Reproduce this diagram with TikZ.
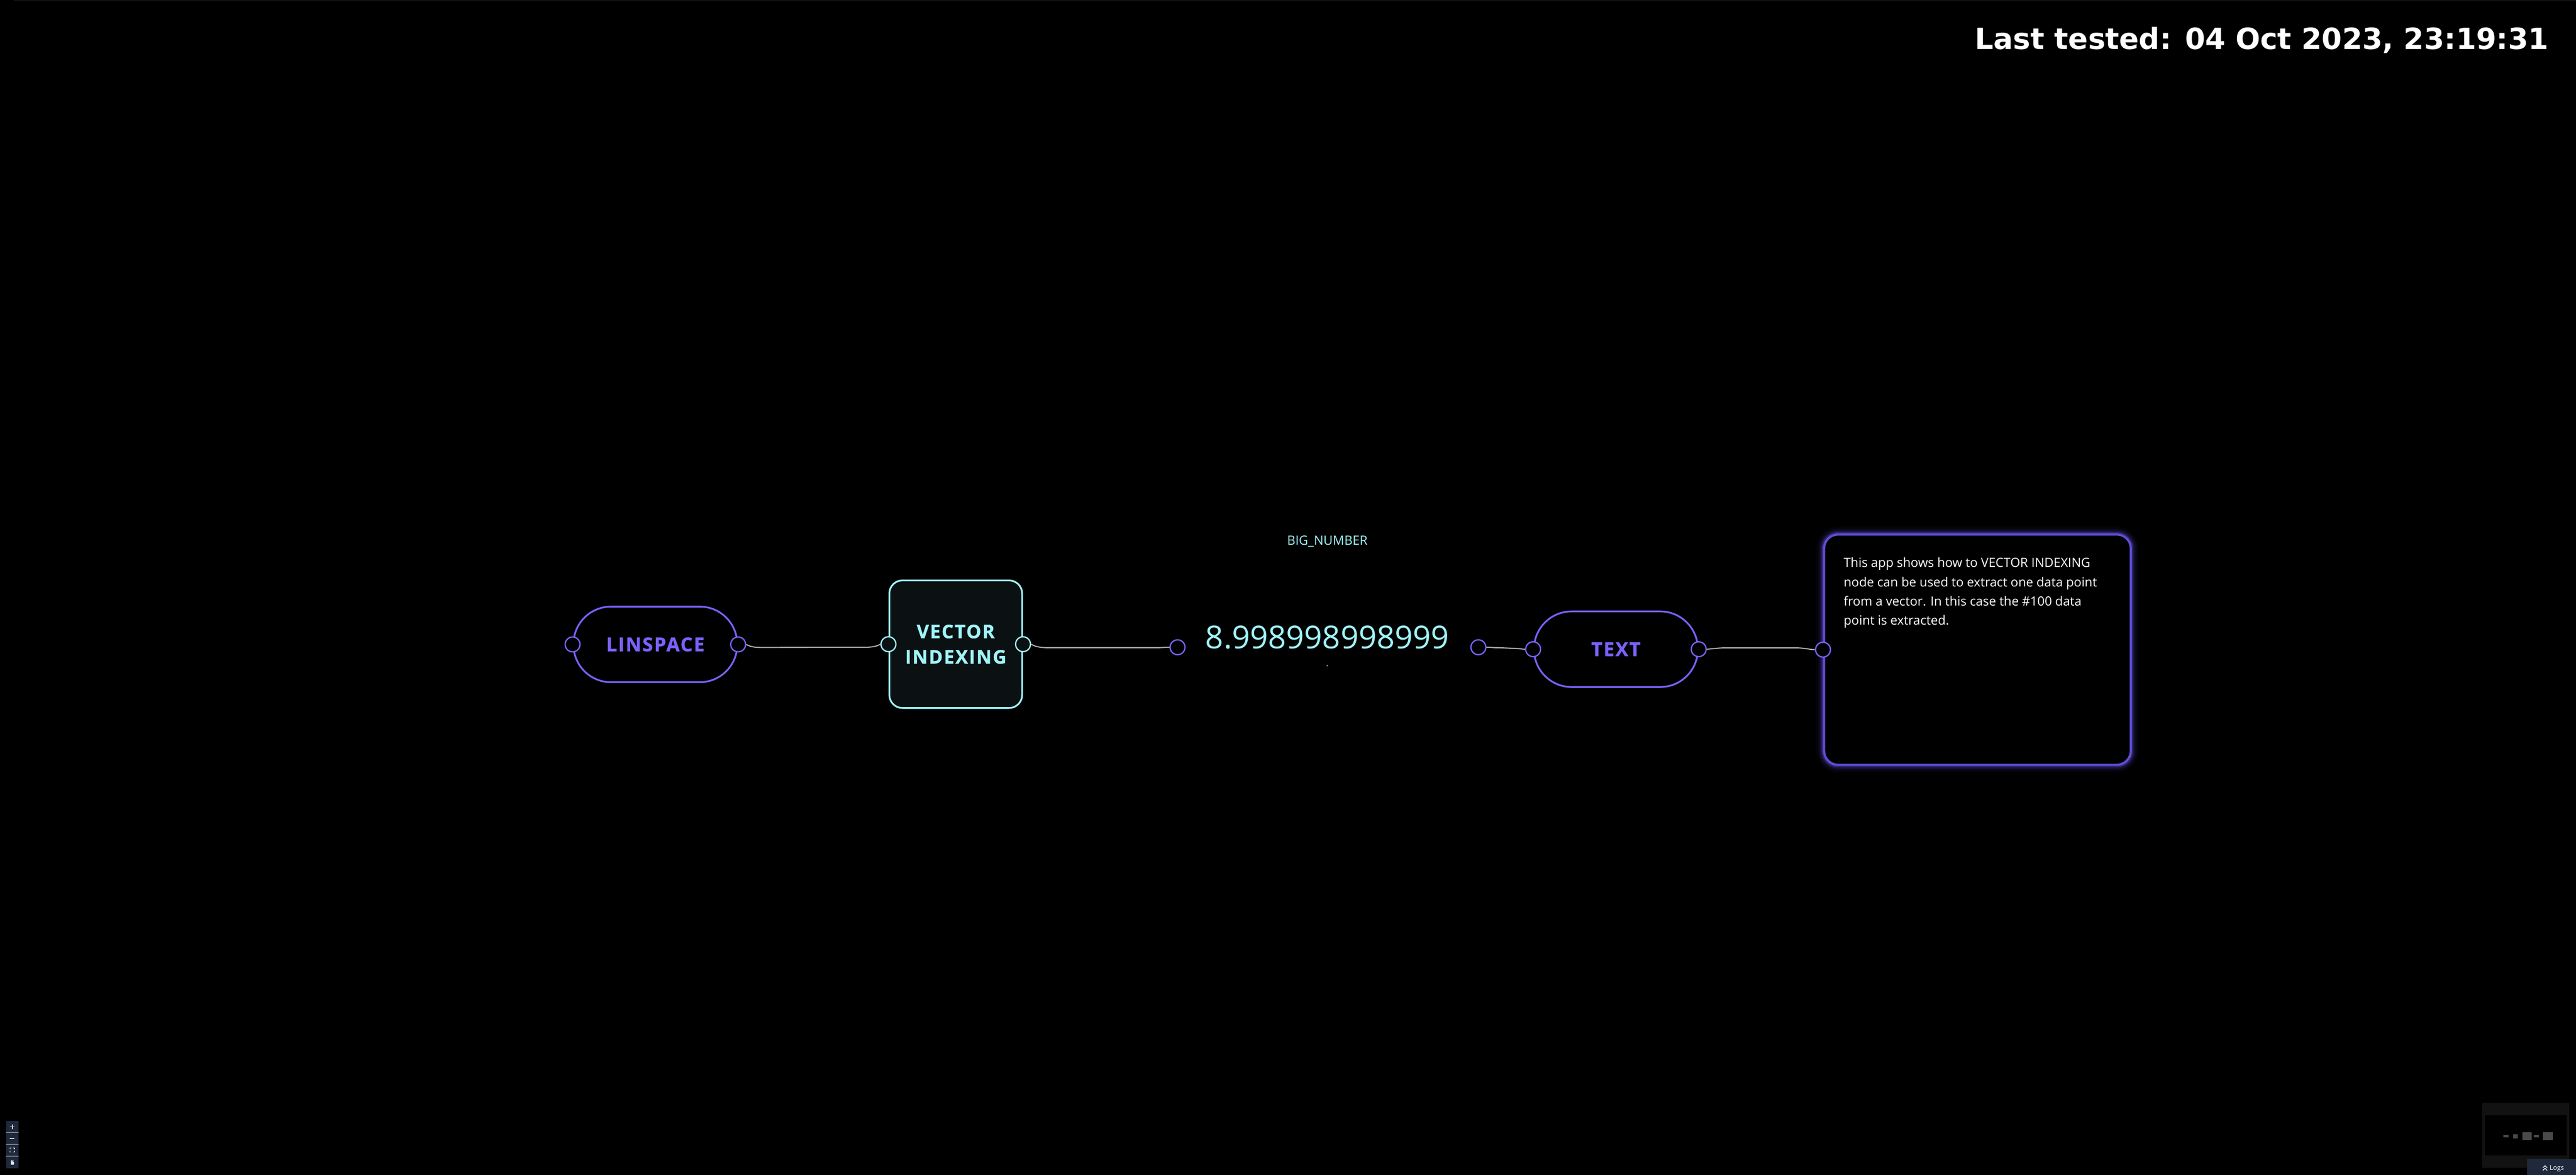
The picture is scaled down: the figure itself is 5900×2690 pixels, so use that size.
\documentclass[tikz,border=0pt]{standalone}
\usepackage{fontspec}
\setmainfont{Open Sans}
\newfontfamily\dejavu{DejaVu Sans}
\IfFontExistsTF{Open Sans ExtraBold}
  {\newfontfamily\labelfont{Open Sans ExtraBold}[LetterSpace=4]}
  {\newfontfamily\labelfont{Open Sans}[UprightFont={* Bold}, LetterSpace=6, FakeBold=1]}
\usetikzlibrary{calc}
\definecolor{purp}{HTML}{7B61FF}
\definecolor{cyanc}{HTML}{A0F4FA}
\definecolor{vifill}{HTML}{0B1112}
\definecolor{wirec}{HTML}{B4B4B4}
\definecolor{tbstroke}{HTML}{5F4ED6}
\definecolor{navy}{HTML}{1E293B}
\definecolor{topline}{HTML}{1C1C2C}
\definecolor{minibg}{HTML}{121212}
\definecolor{minirect}{HTML}{4A4A4A}
\definecolor{dotc}{HTML}{4A8A6A}
\begin{document}
\begin{tikzpicture}[x=0.01cm,y=-0.01cm,
  pill/.style={draw=purp, line width=0.04cm, fill=black, rectangle, rounded corners=0.86cm,
    minimum width=3.75cm, minimum height=1.73cm, text=purp, inner sep=0,
    font=\labelfont\fontsize{12.5}{15}\selectfont},
  vibox/.style={draw=cyanc, line width=0.04cm, fill=vifill, rectangle, rounded corners=0.3cm,
    minimum width=3.04cm, minimum height=2.92cm, text=cyanc, inner sep=0, align=center,
    font=\labelfont\fontsize{12.2}{16.5}\selectfont},
  port/.style={circle, draw, line width=0.03cm, minimum size=0.34cm, inner sep=0, fill=black},
  pport/.style={port, draw=purp},
  cport/.style={port, draw=cyanc, fill=vifill},
  wire/.style={draw=wirec, line width=0.025cm},
  tboxstyle/.style={draw=tbstroke, line width=0.05cm, fill=black, rectangle, rounded corners=0.32cm,
    minimum width=7.02cm, minimum height=5.27cm, inner sep=0},
  tline/.style={anchor=base west, inner sep=0, text=white, font=\fontsize{8.25}{12.5}\selectfont},
]
\useasboundingbox (0,0) rectangle (5900,2690);
\fill[black] (0,0) rectangle (5900,2690);
\draw[topline, line width=0.015cm] (32,0.75) -- (5900,0.75);

% title
\node[anchor=base east, inner sep=0, text=white, font=\dejavu\bfseries\fontsize{18.95}{22}\selectfont] (title) at (5838,113) {Last tested: 04 Oct 2023, 23:19:31};

% nodes
\node[pill] (linspace) at (1501,1475.5) {LINSPACE};
\node[vibox] (vi) at (2189,1475) {VECTOR\\INDEXING};
\node[inner sep=0, text=cyanc, font=\fontsize{20.6}{24}\selectfont] (bignum) at (3040,1459) {8.998998998999};
\node[inner sep=0, text=cyanc, font=\fontsize{8.3}{10}\selectfont] (biglabel) at (3040,1240) {BIG\_NUMBER};
\fill[dotc] (3038.5,1522.5) rectangle (3041.5,1525.5);
\node[pill] (textnode) at (3701,1486.5) {TEXT};
\node[tboxstyle,
  preaction={draw=tbstroke, line width=0.36cm, draw opacity=0.05},
  preaction={draw=tbstroke, line width=0.26cm, draw opacity=0.09},
  preaction={draw=tbstroke, line width=0.18cm, draw opacity=0.16},
  preaction={draw=tbstroke, line width=0.11cm, draw opacity=0.35}] (tbox) at (4529,1487.5) {};

\node[tline] (t1) at (4222,1299) {This app shows how to VECTOR INDEXING};
\node[tline] (t2) at (4222,1343) {node can be used to extract one data point};
\node[tline] (t3) at (4222,1387) {from a vector. In this case the \#100 data};
\node[tline] (t4) at (4222,1431) {point is extracted.};

% ports
\node[pport] (lsL) at (linspace.west) {};
\node[pport] (lsR) at (linspace.east) {};
\node[cport] (viL) at (vi.west) {};
\node[cport] (viR) at (vi.east) {};
\node[pport] (bnL) at (2697,1482) {};
\node[pport] (bnR) at (3386,1482) {};
\node[pport] (txL) at (textnode.west) {};
\node[pport] (txR) at (textnode.east) {};
\node[pport] (tbL) at (tbox.west) {};

% connectors
\draw[wire] (lsR.east) .. controls +(12,7) and +(-15,0) .. ($(lsR.east)+(40,7)$)
  -- ($(viL.west)+(-40,7)$) .. controls +(15,0) and +(-12,7) .. (viL.west);
\draw[wire] (viR.east) .. controls +(12,7) and +(-15,0) .. ($(viR.east)+(40,8)$)
  -- ($(bnL.west)+(-30,1)$) .. controls +(12,0) and +(-8,0) .. (bnL.west);
\draw[wire] (bnR.east) .. controls +(10,0) and +(-10,0) .. ($(bnR.east)+(25,1)$)
  -- ($(txL.west)+(-25,-2)$) .. controls +(10,0) and +(-8,0) .. (txL.west);
\draw[wire] (txR.east) .. controls +(15,-1) and +(-15,0) .. ($(txR.east)+(40,-3)$)
  -- ($(tbL.west)+(-40,-4)$) .. controls +(15,0) and +(-10,0) .. (tbL.west);

% controls panel (bottom left)
\fill[navy] (14,2566) rectangle (42,2675);
\draw[gray!70, line width=0.01cm] (14,2593) -- (42,2593) (14,2620) -- (42,2620) (14,2647) -- (42,2647);
\draw[white!85!black, line width=0.02cm] (23,2580) -- (33,2580) (28,2575) -- (28,2585);
\draw[white!85!black, line width=0.02cm] (23,2606.5) -- (33,2606.5);
\draw[white!85!black, line width=0.015cm]
  (23,2631) -- (23,2628) -- (26,2628)  (30,2628) -- (33,2628) -- (33,2631)
  (33,2635) -- (33,2638) -- (30,2638)  (26,2638) -- (23,2638) -- (23,2635);
\fill[white!90!black] (24.5,2660) rectangle (31.5,2667);
\draw[white!90!black, line width=0.015cm] (26,2660) -- (26,2657) arc (180:0:2) -- (30,2658);

% minimap (bottom right)
\fill[minibg] (5685,2525) rectangle (5885,2674);
\fill[black] (5691,2554) rectangle (5879,2645);
\fill[minirect] (5733,2598) rectangle (5745,2604);
\fill[minirect] (5756,2597) rectangle (5766,2606);
\fill[minirect] (5777,2593) rectangle (5799,2610);
\fill[minirect] (5803,2598) rectangle (5815,2604);
\fill[minirect] (5824,2593) rectangle (5847,2610);

% logs button
\fill[navy] (5788,2654) rectangle (5900,2690);
\draw[white, line width=0.015cm] (5824,2674) -- (5829,2669) -- (5834,2674)
  (5824,2680) -- (5829,2675) -- (5834,2680);
\node[anchor=base west, inner sep=0, text=white, font=\fontsize{4.3}{5}\selectfont] (logs) at (5839,2679) {Logs};
\end{tikzpicture}
\end{document}
